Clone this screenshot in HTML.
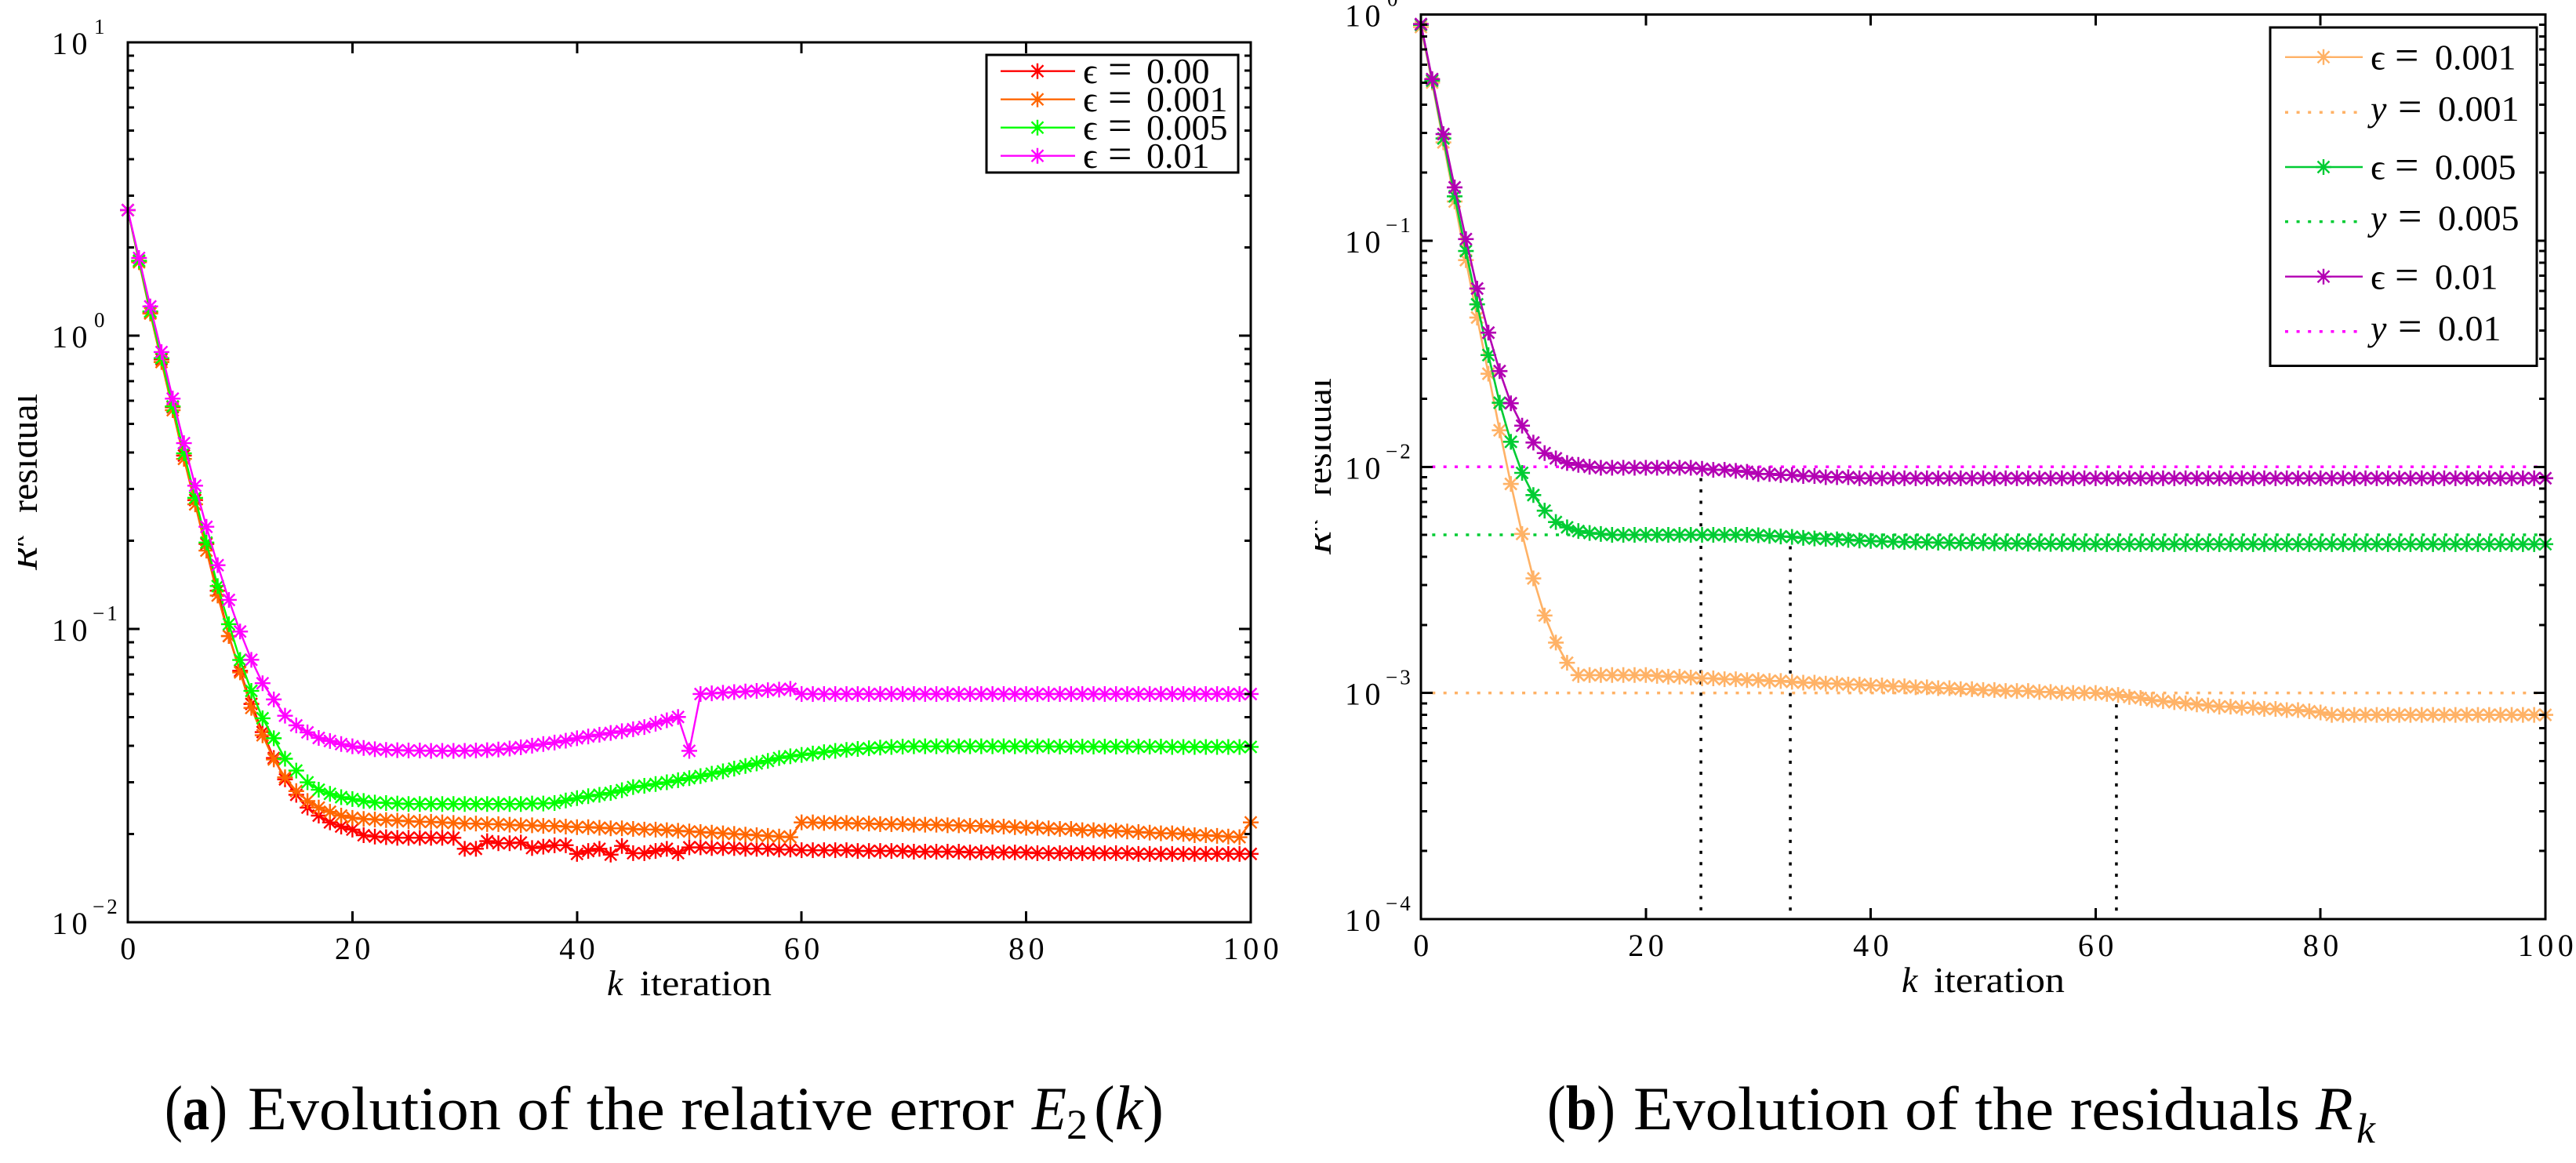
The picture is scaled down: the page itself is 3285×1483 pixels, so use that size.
<!DOCTYPE html>
<html lang="en">
<head>
<meta charset="utf-8">
<title>Evolution of the relative error and residuals</title>
<style>
html,body{margin:0;padding:0;background:#fff;}
svg{display:block;}
text{font-family:"Liberation Serif","DejaVu Serif",serif;fill:#000;}
</style>
</head>
<body>
<svg id="figure" xmlns="http://www.w3.org/2000/svg" width="3285" height="1483" viewBox="0 0 3285 1483">
  <defs>
    <clipPath id="clip-left-title"><rect x="23" y="400" width="60" height="400"/></clipPath>
    <clipPath id="clip-right-title"><rect x="1677" y="400" width="60" height="400"/></clipPath>
  </defs>
  <g id="panel-a"></g>
  <g id="panel-b"></g>

  <!-- panel a legend -->
  <g id="legend-a">
    <rect x="1258" y="70" width="321" height="150" fill="#fff" stroke="#000" stroke-width="3"/>
    <text y="106" font-size="46"><tspan x="1381">ϵ</tspan><tspan x="1413" font-size="54">=</tspan><tspan x="1462">0.00</tspan></text>
    <text y="142" font-size="46"><tspan x="1381">ϵ</tspan><tspan x="1413" font-size="54">=</tspan><tspan x="1462">0.001</tspan></text>
    <text y="178" font-size="46"><tspan x="1381">ϵ</tspan><tspan x="1413" font-size="54">=</tspan><tspan x="1462">0.005</tspan></text>
    <text y="214" font-size="46"><tspan x="1381">ϵ</tspan><tspan x="1413" font-size="54">=</tspan><tspan x="1462">0.01</tspan></text>
  </g>

  <!-- panel b legend -->
  <g id="legend-b">
    <rect x="2895" y="35" width="340" height="431.5" fill="#fff" stroke="#000" stroke-width="3"/>
    <text y="88.4" font-size="46"><tspan x="3023">ϵ</tspan><tspan x="3054" font-size="54">=</tspan><tspan x="3105">0.001</tspan></text>
    <text y="154" font-size="46"><tspan x="3023" font-style="italic">y</tspan><tspan x="3058" font-size="54">=</tspan><tspan x="3109">0.001</tspan></text>
    <text y="228.6" font-size="46"><tspan x="3023">ϵ</tspan><tspan x="3054" font-size="54">=</tspan><tspan x="3105">0.005</tspan></text>
    <text y="293.7" font-size="46"><tspan x="3023" font-style="italic">y</tspan><tspan x="3058" font-size="54">=</tspan><tspan x="3109">0.005</tspan></text>
    <text y="368.3" font-size="46"><tspan x="3023">ϵ</tspan><tspan x="3054" font-size="54">=</tspan><tspan x="3105">0.01</tspan></text>
    <text y="434" font-size="46"><tspan x="3023" font-style="italic">y</tspan><tspan x="3058" font-size="54">=</tspan><tspan x="3109">0.01</tspan></text>
  </g>

  <!-- axis titles -->
  <text x="774" y="1269" font-size="46" font-style="italic">k</text>
  <text x="816" y="1269" font-size="46" textLength="168" lengthAdjust="spacingAndGlyphs">iteration</text>
  <text x="2425" y="1265" font-size="46" font-style="italic">k</text>
  <text x="2466" y="1265" font-size="46" textLength="167" lengthAdjust="spacingAndGlyphs">iteration</text>

  <g clip-path="url(#clip-left-title)">
    <text transform="translate(47,654) rotate(-90)" font-size="48" textLength="152" lengthAdjust="spacingAndGlyphs">residual</text>
    <text transform="translate(47,727) rotate(-90)" font-size="48" font-style="italic">R</text>
    <text transform="translate(30,697) rotate(-90)" font-size="32" font-style="italic">k</text>
  </g>
  <g clip-path="url(#clip-right-title)">
    <text transform="translate(1697,633) rotate(-90)" font-size="48" textLength="151" lengthAdjust="spacingAndGlyphs">residual</text>
    <text transform="translate(1697,707) rotate(-90)" font-size="48" font-style="italic">R</text>
    <text transform="translate(1680,677) rotate(-90)" font-size="32" font-style="italic">k</text>
  </g>

  <!-- captions -->
  <g>
    <text x="210" y="1440" font-size="80" textLength="80" lengthAdjust="spacingAndGlyphs">(<tspan font-weight="bold">a</tspan>)</text>
    <text x="316" y="1440" font-size="78" textLength="977" lengthAdjust="spacingAndGlyphs">Evolution of the relative error</text>
    <text x="1316" y="1440" font-size="78" font-style="italic" textLength="44" lengthAdjust="spacingAndGlyphs">E</text>
    <text x="1360" y="1452" font-size="54">2</text>
    <text x="1395" y="1440" font-size="80" textLength="89" lengthAdjust="spacingAndGlyphs">(<tspan font-style="italic">k</tspan>)</text>
  </g>
  <g>
    <text x="1973" y="1440" font-size="80" textLength="87" lengthAdjust="spacingAndGlyphs">(<tspan font-weight="bold">b</tspan>)</text>
    <text x="2083" y="1440" font-size="78" textLength="850" lengthAdjust="spacingAndGlyphs">Evolution of the residuals</text>
    <text x="2953" y="1440" font-size="78" font-style="italic">R</text>
    <text x="3005" y="1457" font-size="54" font-style="italic">k</text>
  </g>
</svg>

<script>
// ---------- shared tick data ----------
const xTickValues = [0, 20, 40, 60, 80, 100];
const xTickLabels = ['0', '20', '40', '60', '80', '100'];

// ---------- panel (a) data ----------
const aDecades = [1, 0, -1, -2];
const aExponentLabels = ['1', '0', '\u22121', '\u22122'];
const aRed = [2.68,1.8,1.2,.83,.57,.39,.275,.195,.135,.0946,
  .072,.0555,.0445,.0363,.0307,.0272,.0246,.0231,.0219,.0212,
  .0207,.0198,.0196,.0195,.0194,.0194,.0194,.0194,.0194,.0194,
  .0178,.0178,.0189,.0186,.0186,.0187,.0179,.0181,.0183,.0183,
  .0171,.0175,.0178,.017,.0182,.0172,.0172,.0175,.0178,.0172,
  .018,.018,.0179,.0179,.0179,.0178,.0178,.0178,.0177,.0177,
  .0176,.0176,.0176,.0176,.0176,.0175,.0175,.0175,.0175,.0175,
  .0174,.0174,.0174,.0174,.0174,.0173,.0173,.0173,.0173,.0173,
  .0173,.0172,.0172,.0172,.0172,.0172,.0172,.0172,.0172,.0172,
  .0171,.0171,.0171,.0171,.0171,.0171,.0171,.0171,.0171,.0171,.0171];
const aOrange = [2.68,1.78,1.19,.813,.557,.38,.266,.185,.13,.0946,
  .0711,.0538,.0434,.0359,.0312,.028,.0259,.0246,.0238,.0231,
  .0227,.0225,.0224,.0223,.0222,.0221,.022,.022,.0219,.0218,
  .0217,.0217,.0216,.0216,.0215,.0214,.0214,.0213,.0213,.0212,
  .0211,.0211,.021,.0209,.0209,.0208,.0207,.0207,.0206,.0205,
  .0204,.0203,.0202,.0201,.02,.0199,.0198,.0197,.0196,.0195,
  .0219,.0219,.0218,.0218,.0218,.0217,.0217,.0216,.0216,.0216,
  .0215,.0215,.0215,.0214,.0214,.0213,.0213,.0212,.0212,.0211,
  .021,.021,.0209,.0208,.0208,.0206,.0206,.0205,.0205,.0204,
  .0203,.0202,.0201,.0201,.02,.0198,.0198,.0197,.0196,.0195,.0219];
const aGreen = [2.68,1.8,1.21,.838,.574,.397,.28,.197,.14,.1038,
  .0784,.0615,.0496,.0424,.0361,.0329,.03,.0283,.0274,.0267,
  .0263,.0259,.0256,.0255,.0254,.0253,.0253,.0253,.0253,.0253,
  .0253,.0253,.0253,.0253,.0253,.0253,.0254,.0254,.0255,.026,
  .0265,.0269,.0272,.0276,.0282,.0289,.0292,.0296,.03,.0305,
  .031,.0315,.0321,.0327,.0334,.0341,.0348,.0355,.0363,.0368,
  .0372,.0376,.038,.0384,.0387,.039,.0392,.0394,.0396,.0397,
  .0398,.0398,.0398,.0398,.0398,.0398,.0398,.0398,.0398,.0398,
  .0398,.0398,.0398,.0397,.0397,.0397,.0397,.0397,.0397,.0397,
  .0397,.0397,.0397,.0396,.0396,.0396,.0396,.0396,.0396,.0396,.0396];
const aMagenta = [2.68,1.84,1.258,.879,.61,.43,.308,.223,.165,.1256,
  .098,.0785,.0653,.0575,.0506,.0469,.0444,.0425,.0415,.0405,
  .0398,.0393,.0389,.0387,.0386,.0385,.0385,.0384,.0384,.0384,
  .0384,.0385,.0386,.0388,.0391,.0395,.04,.0405,.041,.0416,
  .0424,.043,.0436,.0442,.0448,.0455,.0463,.0475,.0488,.0501,
  .0384,.06,.0603,.0606,.0609,.0612,.0615,.0618,.0621,.0625,
  .06,.06,.06,.06,.06,.06,.06,.06,.06,.06,
  .06,.06,.06,.06,.06,.06,.06,.06,.06,.06,
  .06,.06,.06,.06,.06,.06,.06,.06,.06,.06,
  .06,.06,.06,.06,.06,.06,.06,.06,.06,.06,.06];

// ---------- panel (b) data ----------
const bDecades = [0, -1, -2, -3, -4];
const bExponentLabels = ['0', '\u22121', '\u22122', '\u22123', '\u22124'];
const bOrange = [.88,.5,.272,.149,.082,.0457,.0258,.0145,.0084,.00505,
  .00321,.0022,.00167,.00136,.0012,.0012,.0012,.0012,.0012,.0012,
  .0012,.00119,.00118,.00118,.00117,.00116,.00116,.00115,.00115,.00114,
  .00114,.00113,.00113,.00112,.00111,.00111,.0011,.0011,.00109,.00109,
  .00108,.00108,.00107,.00107,.00106,.00106,.00105,.00105,.00104,.00104,
  .00103,.00103,.00102,.00102,.00102,.00101,.00101,.00100,.00100,.001,
  .001,.00099,.00098,.00096,.00095,.00093,.00092,.00091,.0009,.00089,
  .00088,.00087,.00087,.00086,.00086,.00085,.00085,.00084,.00084,.00083,
  .00082,.0008,.0008,.0008,.0008,.0008,.0008,.0008,.0008,.0008,
  .0008,.0008,.0008,.0008,.0008,.0008,.0008,.0008,.0008,.0008,.0008];
const bGreen = [.9,.51,.283,.157,.09,.0523,.0312,.0192,.0129,.0094,
  .0075,.0064,.0057,.0054,.0052,.0051,.00505,.005,.005,.005,
  .005,.005,.005,.005,.005,.005,.005,.005,.005,.005,
  .00498,.00495,.00492,.0049,.00485,.00482,.0048,.00478,.00475,.00472,
  .0047,.00468,.00466,.00465,.00464,.00463,.00462,.00461,.0046,.0046,
  .0046,.00459,.00458,.00458,.00457,.00457,.00456,.00456,.00456,.00455,
  .00455,.00455,.00455,.00455,.00455,.00455,.00455,.00455,.00455,.00455,
  .00455,.00455,.00455,.00455,.00455,.00455,.00455,.00455,.00455,.00455,
  .00455,.00455,.00455,.00455,.00455,.00455,.00455,.00455,.00455,.00455,
  .00455,.00455,.00455,.00455,.00455,.00455,.00455,.00455,.00455,.00455,.00455];
const bPurple = [.907,.518,.296,.172,.1016,.0614,.0392,.0265,.0191,.0152,
  .0128,.0115,.0109,.0104,.0102,.01,.0099,.0099,.0099,.0099,
  .0099,.0099,.0099,.0099,.0099,.0098,.0097,.0097,.0096,.0095,
  .0093,.0093,.0092,.0092,.0091,.0091,.009,.009,.009,.0089,
  .0089,.0089,.0089,.0089,.0089,.0089,.0089,.0089,.0089,.0089,
  .0089,.0089,.0089,.0089,.0089,.0089,.0089,.0089,.0089,.0089,
  .0089,.0089,.0089,.0089,.0089,.0089,.0089,.0089,.0089,.0089,
  .0089,.0089,.0089,.0089,.0089,.0089,.0089,.0089,.0089,.0089,
  .0089,.0089,.0089,.0089,.0089,.0089,.0089,.0089,.0089,.0089,
  .0089,.0089,.0089,.0089,.0089,.0089,.0089,.0089,.0089,.0089,.0089];
const bReferenceLevels = [0.001, 0.005, 0.01];
const bCrossingIterations = [61.85, 32.85, 24.9];
const bCrossingLevels = [0.001, 0.005, 0.01];

// ---------- drawing helpers ----------
const NS = 'http://www.w3.org/2000/svg';
function make(parent, tag, attrs) {
  const el = document.createElementNS(NS, tag);
  for (const k in attrs) el.setAttribute(k, attrs[k]);
  parent.appendChild(el);
  return el;
}
function markerPath(cx, cy, r, d) {
  return 'M' + (cx - r) + ' ' + cy + 'H' + (cx + r) +
    'M' + cx + ' ' + (cy - r) + 'V' + (cy + r) +
    'M' + (cx - d) + ' ' + (cy - d) + 'L' + (cx + d) + ' ' + (cy + d) +
    'M' + (cx - d) + ' ' + (cy + d) + 'L' + (cx + d) + ' ' + (cy - d);
}
function drawSeries(group, name, values, color, xFn, yFn, width) {
  const pts = values.map(function (v, i) { return xFn(i).toFixed(2) + ',' + yFn(v).toFixed(2); });
  const line = make(group, 'polyline', { points: pts.join(' '), fill: 'none', stroke: color, 'stroke-width': width });
  
  
  values.forEach(function (v, i) {
    const m = make(group, 'path', { d: markerPath(xFn(i), yFn(v), 10, 7.5), fill: 'none', stroke: color, 'stroke-width': width });
    
    
  });
}
function drawAxes(group, prefix, box, xFn, yFn, decades, expLabels, lab) {
  const ax = make(group, 'g', { stroke: '#000', 'stroke-width': 3, 'shape-rendering': 'crispEdges' });
  
  
  function tick(x1, y1, x2, y2) { make(ax, 'line', { x1: x1, y1: y1, x2: x2, y2: y2 }); }
  xTickValues.slice(1, -1).forEach(function (t) {
    tick(xFn(t), box.top, xFn(t), box.top + 14);
    tick(xFn(t), box.bottom, xFn(t), box.bottom - 14);
  });
  decades.forEach(function (d, idx) {
    const y = yFn(Math.pow(10, d));
    tick(box.left, y, box.left + 15, y);
    tick(box.right, y, box.right - 15, y);
    if (idx < decades.length - 1) {
      for (let m = 2; m <= 9; m++) {
        const my = yFn(m * Math.pow(10, d - 1));
        tick(box.left, my, box.left + 8, my);
        tick(box.right, my, box.right - 8, my);
      }
    }
  });
  xTickValues.forEach(function (t, i) {
    const lbl = make(group, 'text', { x: xFn(t) + 3, y: box.bottom + lab.xBase, 'font-size': 40, 'text-anchor': 'middle', 'letter-spacing': 5.5 });
    lbl.textContent = xTickLabels[i];
    
    
  });
  decades.forEach(function (d, i) {
    const y = yFn(Math.pow(10, d));
    const base = make(group, 'text', { x: lab.yX, y: y + 15, 'font-size': 40, 'letter-spacing': 5.5 });
    base.textContent = '10';
    
    
    const neg = expLabels[i].length > 1;
    const exp = make(group, 'text', { x: lab.yX + (neg ? 52 : 54), y: y - 11, 'font-size': 27, 'letter-spacing': neg ? 3 : 0 });
    exp.textContent = expLabels[i];
    
    
  });
  const frame = make(group, 'rect', { x: box.left, y: box.top, width: box.right - box.left, height: box.bottom - box.top, fill: 'none', stroke: '#000', 'stroke-width': 3, 'shape-rendering': 'crispEdges' });
  
  
}
function legendLine(parent, name, x1, x2, xm, y, color, dotted) {
  const l = make(parent, 'line', { x1: x1, x2: x2, y1: y, y2: y, stroke: color, 'stroke-width': dotted ? 3.5 : 2.4 });
  if (dotted) l.setAttribute('stroke-dasharray', '4 10.6');
  
  
  if (!dotted) {
    const m = make(parent, 'path', { d: markerPath(xm, y, 10, 7.5), fill: 'none', stroke: color, 'stroke-width': 2.4 });
    
    
  }
}

// ---------- panel (a) ----------
(function () {
  const g = document.getElementById('panel-a');
  const box = { left: 163, right: 1595, top: 54, bottom: 1176 };
  const x = function (k) { return box.left + (box.right - box.left) * k / 100; };
  const y = function (v) { return box.top + (box.bottom - box.top) * (1 - Math.log10(v)) / 3; };
  drawSeries(g, 'series-eps-0', aRed, '#ff0000', x, y, 2.4);
  drawSeries(g, 'series-eps-0-001', aOrange, '#ff6600', x, y, 2.4);
  drawSeries(g, 'series-eps-0-005', aGreen, '#00ff00', x, y, 2.4);
  drawSeries(g, 'series-eps-0-01', aMagenta, '#ff00ff', x, y, 2.4);
  drawAxes(g, 'panel-a', box, x, y, aDecades, aExponentLabels, { xBase: 47, yX: 66 });
  const leg = document.getElementById('legend-a');
  const colors = ['#ff0000', '#ff6600', '#00ff00', '#ff00ff'];
  const rows = [90.7, 126.7, 162.7, 198.7];
  rows.forEach(function (ry, i) { legendLine(leg, 'legend-a-entry', 1276, 1371, 1323, ry, colors[i], false); });
  g.parentNode.appendChild(leg);
})();

// ---------- panel (b) ----------
(function () {
  const g = document.getElementById('panel-b');
  const box = { left: 1812, right: 3246, top: 18.5, bottom: 1172 };
  const x = function (k) { return box.left + (box.right - box.left) * k / 100; };
  const y = function (v) { return box.top + (box.bottom - box.top) * (0 - Math.log10(v)) / 4; };
  const step = (box.right - box.left) / 100;
  const refColors = ['#ffb266', '#00cc33', '#ff00ff'];
  bReferenceLevels.forEach(function (lvl, i) {
    const d = make(g, 'line', { x1: x(1), x2: x(99) + 4, y1: y(lvl), y2: y(lvl), stroke: refColors[i], 'stroke-width': 3.5, 'stroke-dasharray': '4 ' + (step - 4) });
    
    
  });
  bCrossingIterations.forEach(function (k, i) {
    const d = make(g, 'line', { x1: x(k), x2: x(k), y1: y(bCrossingLevels[i]), y2: box.bottom, stroke: '#000', 'stroke-width': 3.5, 'stroke-dasharray': '4 10.4' });
    
    
  });
  drawSeries(g, 'series-eps-0-001', bOrange, '#ffb266', x, y, 2.6);
  drawSeries(g, 'series-eps-0-005', bGreen, '#00cc33', x, y, 2.6);
  drawSeries(g, 'series-eps-0-01', bPurple, '#b300b3', x, y, 2.6);
  drawAxes(g, 'panel-b', box, x, y, bDecades, bExponentLabels, { xBase: 47, yX: 1715 });
  const leg = document.getElementById('legend-b');
  const colors = ['#ffb266', '#ffb266', '#00cc33', '#00cc33', '#b300b3', '#ff00ff'];
  const rows = [72.8, 143.3, 213, 282.6, 352.7, 422.8];
  rows.forEach(function (ry, i) { legendLine(leg, 'legend-b-entry', 2914, 3013, 2963, ry, colors[i], i % 2 === 1); });
  g.parentNode.appendChild(leg);
})();
</script>
</body>
</html>
